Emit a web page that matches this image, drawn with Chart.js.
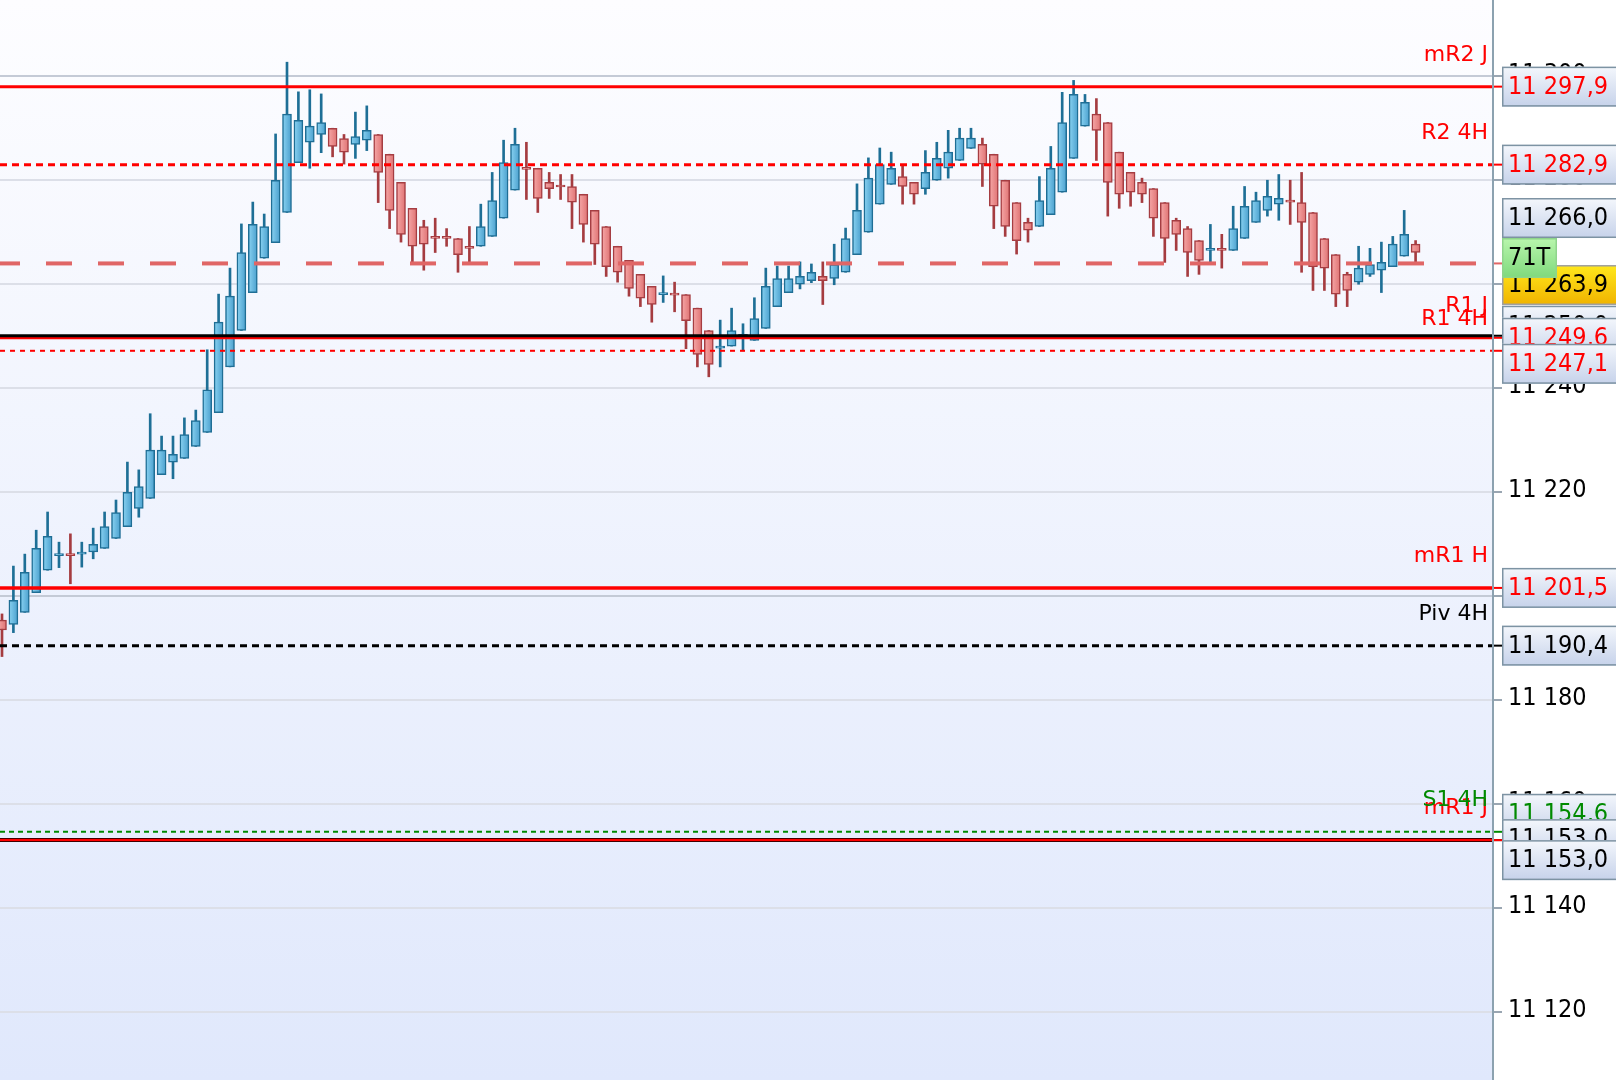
<!DOCTYPE html>
<html><head><meta charset="utf-8">
<script src="https://cdn.jsdelivr.net/npm/chart.js@4.4.1/dist/chart.umd.min.js"></script>
<style>html,body{margin:0;padding:0;background:#fff;overflow:hidden}#wrap{width:1616px;height:1080px}</style>
</head><body><div id="wrap"><canvas id="c" width="1616" height="1080"></canvas></div>
<script>
// ---- data ----
const opens  = [11195.3,11194.5,11196.8,11200.6,11204.9,11207.7,11207.9,11208.0,11208.4,11209.1,11211.0,11213.3,11216.8,11218.7,11223.3,11225.7,11226.4,11228.7,11231.4,11235.2,11244.0,11251.0,11258.3,11264.9,11267.9,11273.7,11283.3,11287.2,11288.7,11289.9,11287.9,11286.8,11287.6,11288.7,11284.9,11279.5,11274.5,11271.0,11269.1,11269.1,11268.7,11267.2,11267.2,11269.1,11272.6,11278.0,11282.3,11282.2,11279.5,11278.9,11278.7,11277.2,11274.1,11271.0,11267.2,11264.5,11261.8,11259.5,11257.9,11258.0,11257.9,11255.3,11251.0,11247.6,11248.0,11249.9,11249.1,11251.4,11255.6,11258.3,11259.9,11260.6,11261.4,11261.0,11262.2,11265.6,11269.9,11275.3,11279.1,11280.6,11279.5,11278.3,11279.9,11282.2,11283.7,11286.0,11286.8,11284.9,11279.9,11275.6,11271.8,11271.0,11273.3,11277.6,11284.1,11290.3,11292.6,11291.0,11285.3,11281.4,11279.5,11278.3,11275.6,11272.2,11270.6,11268.3,11266.4,11266.8,11266.4,11268.7,11271.8,11274.1,11275.3,11276.0,11275.6,11273.7,11268.7,11265.6,11261.8,11260.3,11261.8,11262.6,11263.3,11265.3,11267.6];
const highs  = [11196.5,11205.7,11208.0,11212.6,11216.1,11210.3,11211.9,11210.3,11213.0,11216.1,11218.4,11225.7,11224.2,11235.0,11230.7,11230.7,11234.2,11235.7,11247.3,11258.0,11263.0,11271.5,11275.7,11273.4,11288.8,11302.6,11296.9,11297.3,11296.5,11289.9,11288.7,11293.0,11294.2,11288.7,11284.9,11279.5,11274.5,11272.2,11272.6,11270.6,11268.7,11271.0,11275.3,11281.4,11287.6,11289.9,11287.2,11282.2,11281.4,11281.0,11281.0,11277.2,11274.1,11271.0,11267.2,11264.5,11261.8,11259.5,11261.5,11260.3,11257.9,11255.3,11251.0,11253.0,11255.3,11252.3,11257.3,11263.0,11263.4,11263.4,11264.2,11263.8,11264.2,11267.6,11270.7,11279.2,11284.2,11286.1,11285.3,11282.6,11279.5,11285.6,11287.2,11289.5,11289.9,11289.9,11288.0,11284.9,11279.9,11275.6,11272.6,11280.6,11286.4,11296.8,11299.1,11296.4,11295.6,11291.0,11285.3,11281.4,11280.3,11278.3,11275.6,11272.6,11271.0,11268.3,11271.4,11269.5,11274.9,11278.7,11277.6,11279.9,11281.0,11279.9,11281.4,11273.7,11268.7,11265.6,11262.2,11267.2,11266.8,11268.0,11269.1,11274.1,11268.3];
const lows   = [11188.3,11192.9,11196.8,11200.6,11204.9,11205.4,11202.3,11205.5,11207.1,11209.1,11211.0,11213.3,11215.1,11218.7,11223.3,11222.5,11226.4,11228.7,11231.4,11235.2,11244.0,11251.0,11258.3,11264.9,11267.9,11273.7,11283.3,11282.2,11285.2,11284.4,11283.0,11284.1,11285.6,11275.6,11270.6,11268.0,11264.1,11262.6,11266.0,11267.2,11262.2,11264.1,11267.2,11269.1,11272.6,11278.0,11276.2,11273.7,11276.4,11276.2,11270.6,11268.0,11263.7,11261.4,11260.3,11257.6,11255.6,11252.6,11256.4,11254.6,11247.5,11244.0,11242.1,11244.0,11248.0,11247.1,11249.1,11251.4,11255.6,11258.3,11259.0,11260.2,11256.0,11259.8,11262.2,11265.6,11269.9,11275.3,11279.1,11275.3,11275.3,11277.2,11279.9,11280.3,11283.7,11286.0,11278.7,11270.6,11269.1,11265.7,11268.0,11271.0,11273.3,11277.6,11284.1,11290.3,11283.7,11273.0,11274.5,11274.9,11275.6,11269.1,11264.1,11266.4,11261.4,11261.8,11264.1,11263.0,11266.4,11268.7,11271.8,11273.0,11272.2,11271.4,11262.2,11258.7,11258.7,11255.6,11255.6,11259.9,11261.4,11258.3,11263.3,11265.3,11264.1];
const closes = [11193.4,11199.1,11204.5,11209.1,11211.4,11207.9,11207.7,11208.4,11209.9,11213.3,11216.0,11219.9,11221.0,11228.0,11228.0,11227.2,11231.0,11233.7,11239.6,11252.6,11257.6,11266.0,11271.4,11271.0,11279.9,11292.6,11291.4,11290.3,11291.0,11286.4,11285.3,11288.3,11289.5,11281.4,11274.1,11269.5,11267.2,11267.6,11268.7,11268.7,11265.6,11266.8,11271.0,11276.0,11283.3,11286.8,11282.0,11276.4,11278.3,11278.6,11275.7,11271.4,11267.6,11263.3,11262.2,11259.1,11257.2,11256.0,11258.3,11257.8,11252.9,11246.4,11244.5,11248.0,11251.0,11250.1,11253.3,11259.5,11261.0,11261.0,11261.4,11262.2,11260.6,11263.7,11268.7,11274.1,11280.3,11282.9,11282.2,11278.7,11277.2,11281.4,11284.1,11285.3,11288.0,11288.0,11283.0,11274.9,11271.0,11268.3,11270.3,11276.0,11282.2,11291.0,11296.4,11294.9,11289.5,11279.5,11277.2,11277.6,11277.2,11272.6,11268.7,11269.5,11266.0,11264.5,11266.8,11266.4,11270.6,11274.9,11276.0,11276.8,11276.4,11275.7,11271.8,11263.3,11263.0,11258.0,11258.7,11263.0,11263.7,11264.1,11267.6,11269.5,11266.0];
const yTickValues = [11120,11140,11160,11180,11200,11220,11240,11260,11280,11300];
const levelValues = [11297.9, 11282.9, 11249.6, 11250.0, 11247.1, 11201.5, 11190.4, 11154.6, 11153.0, 11153.0, 11263.9];
const levelNames  = ['mR2 J', 'R2 4H', 'R1 J', '', 'R1 4H', 'mR1 H', 'Piv 4H', 'S1 4H', '', 'mR1 J', ''];
const countdownLabel = '71T';

// ---- styles / layout (not data) ----
const RED='#ff0000', BLACK='#000000', GREEN='#008a00', SALMON='#e06666';
const levelStyles = [
  {c:RED,w:3,d:[]},{c:RED,w:3,d:[7,5]},{c:RED,w:3,d:[]},{c:BLACK,w:3,d:[]},{c:RED,w:2,d:[5,5]},
  {c:RED,w:3.5,d:[]},{c:BLACK,w:3,d:[7,5]},{c:GREEN,w:2,d:[5,4]},{c:BLACK,w:4,d:[]},{c:RED,w:2.5,d:[]},
  {c:SALMON,w:4,d:[26,26],off:6}
];
const lastClose = closes[closes.length-1];
const tagDefs = [
  {v:levelValues[0], c:RED, box:'blue', dy:0},
  {v:levelValues[1], c:RED, box:'blue', dy:0},
  {v:lastClose, c:BLACK, box:'blue', dy:-34.5},
  {v:levelValues[10], c:BLACK, box:'yellow', dy:21.6},
  {v:lastClose, c:BLACK, box:'green', dy:5.5, text:countdownLabel, wBox:55},
  {v:levelValues[3], c:BLACK, box:'blue', dy:-10},
  {v:levelValues[2], c:RED, box:'blue', dy:0},
  {v:levelValues[4], c:RED, box:'blue', dy:13},
  {v:levelValues[5], c:RED, box:'blue', dy:0},
  {v:levelValues[6], c:BLACK, box:'blue', dy:0},
  {v:levelValues[7], c:GREEN, box:'blue', dy:-18},
  {v:levelValues[8], c:BLACK, box:'blue', dy:-1},
  {v:levelValues[9], c:BLACK, box:'blue', dy:20},
];
const NUMFONT = '"DejaVu Sans Condensed", "DejaVu Sans", sans-serif';
const LBLFONT = '"DejaVu Sans", sans-serif';

function fmt(v, d){
  let s = Number(v).toFixed(d).replace('.', ',');
  return s.replace(/^(\d+)(\d{3})/, '$1 $2');
}
const up = i => closes[i] >= opens[i];
const idx = opens.map((_, i) => i);

const bgPlugin = {
  id:'bg',
  beforeDraw(chart){
    const {ctx, chartArea:a} = chart;
    ctx.save();
    ctx.fillStyle = '#ffffff';
    ctx.fillRect(0, 0, chart.width, chart.height);
    const g = ctx.createLinearGradient(0, a.top, 0, a.bottom);
    g.addColorStop(0, '#fdfdff');
    g.addColorStop(1, '#e0e8fc');
    ctx.fillStyle = g;
    ctx.fillRect(a.left, a.top, a.right - a.left, a.bottom - a.top);
    ctx.restore();
  }
};

const levelsPlugin = {
  id:'levels',
  afterDraw(chart){
    const {ctx, chartArea:a} = chart;
    const ys = chart.scales.y;
    ctx.save();
    levelValues.forEach((v, k) => {
      const st = levelStyles[k];
      const y = ys.getPixelForValue(v);
      ctx.beginPath();
      ctx.strokeStyle = st.c; ctx.lineWidth = st.w;
      ctx.setLineDash(st.d); ctx.lineDashOffset = st.off || 0;
      ctx.moveTo(a.left, y); ctx.lineTo(a.right - 1, y); ctx.stroke();
      ctx.setLineDash([]);
      ctx.beginPath(); ctx.lineWidth = 2;
      ctx.moveTo(a.right + 1, y); ctx.lineTo(a.right + 9, y); ctx.stroke();
    });
    ctx.font = '22px ' + LBLFONT;
    ctx.textAlign = 'right'; ctx.textBaseline = 'alphabetic';
    const order = [0,1,2,4,5,6,9,7];
    order.forEach(k => {
      if (!levelNames[k]) return;
      const y = ys.getPixelForValue(levelValues[k]);
      ctx.fillStyle = levelStyles[k].c;
      ctx.fillText(levelNames[k], a.right - 5, y - 26);
    });
    ctx.font = '25px ' + NUMFONT;
    ctx.textAlign = 'left';
    const bx = a.right + 9, bh = 40;
    tagDefs.forEach(t => {
      const cy = ys.getPixelForValue(t.v) + t.dy;
      const top = cy - bh/2;
      const w = t.wBox || 140;
      const g = ctx.createLinearGradient(0, top, 0, top + bh);
      if (t.box === 'yellow') { g.addColorStop(0,'#ffe81c'); g.addColorStop(1,'#f0b300'); }
      else if (t.box === 'green') { g.addColorStop(0,'#b9f6ad'); g.addColorStop(1,'#7fd97c'); }
      else { g.addColorStop(0,'#f4f7fc'); g.addColorStop(1,'#c6d2ea'); }
      ctx.fillStyle = g;
      ctx.fillRect(bx, top, w, bh);
      ctx.strokeStyle = t.box === 'green' ? '#8fd48c' : (t.box === 'yellow' ? '#a0a0a0' : '#7d93a3');
      ctx.lineWidth = 1.5;
      ctx.strokeRect(bx + 0.75, top + 0.75, w - 1.5, bh - 1.5);
      ctx.fillStyle = t.c;
      ctx.fillText(t.text || fmt(t.v, 1), bx + 6, cy + 7);
    });
    ctx.restore();
  }
};

const ctx = document.getElementById('c').getContext('2d');
new Chart(ctx, {
  type:'bar',
  data:{datasets:[
    {
      label:'wick', order:2, grouped:false, barThickness:2, borderWidth:0,
      data: idx.map(i => ({x:i, y:[lows[i], highs[i]]})),
      backgroundColor: c => up(c.dataIndex) ? '#1e6f96' : '#a53c40'
    },
    {
      label:'body', order:1, grouped:false, barThickness:9, minBarLength:2,
      borderWidth:1.5, borderSkipped:false,
      data: idx.map(i => ({x:i, y:[opens[i], closes[i]]})),
      borderColor: c => up(c.dataIndex) ? '#1f6e95' : '#a53d42',
      backgroundColor: c => {
        const ch = c.chart, xs = ch.scales && ch.scales.x;
        const u = up(c.dataIndex);
        if (!xs || c.type !== 'data' || !isFinite(xs.getPixelForValue(c.dataIndex))) return u ? '#62b7e0' : '#ee8f8f';
        const px = xs.getPixelForValue(c.dataIndex);
        const g = ch.ctx.createLinearGradient(px - 4.5, 0, px + 4.5, 0);
        if (u) { g.addColorStop(0,'#8ad3f2'); g.addColorStop(1,'#4a9fcd'); }
        else { g.addColorStop(0,'#f6a8a8'); g.addColorStop(1,'#df7272'); }
        return g;
      }
    }
  ]},
  options:{
    responsive:false, animation:false, devicePixelRatio:1,
    layout:{padding:0},
    plugins:{legend:{display:false}, tooltip:{enabled:false}},
    scales:{
      x:{type:'linear', display:false, min:-0.1754, max:130.79, offset:false},
      y:{
        position:'right', min:11106.87, max:11314.56,
        afterFit(s){ s.width = 123; s.paddingTop = 0; s.paddingBottom = 0; s.paddingLeft = 0; s.paddingRight = 0; },
        afterBuildTicks(s){ s.ticks = yTickValues.map(v => ({value:v})); },
        ticks:{padding:6, color:'#000', labelOffset:-1, font:{family:NUMFONT, size:25}, callback: v => fmt(v, 0)},
        grid:{
          color: c => (c.tick && c.tick.value % 100 === 0) ? '#c4cad6' : '#dcdfe8',
          lineWidth:2, tickLength:9, tickColor:'#9aa6b2', tickWidth:2
        },
        border:{display:true, color:'#8ca2b0', width:2}
      }
    }
  },
  plugins:[bgPlugin, levelsPlugin]
});
</script>
</body></html>
